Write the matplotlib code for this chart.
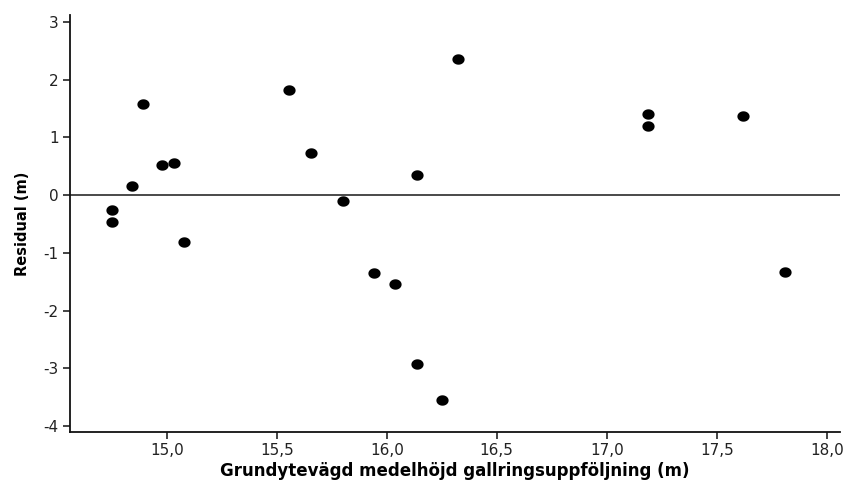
import numpy as np
import matplotlib
matplotlib.use("Agg")
import matplotlib.pyplot as plt
from matplotlib.path import Path
from matplotlib.ticker import FuncFormatter

# Basal-area weighted mean height from thinning follow-up (m) and model residuals (m)
height_m = [14.75, 14.75, 14.84, 14.89, 14.98, 15.035, 15.077, 15.556, 15.657, 15.80,
            15.944, 16.036, 16.136, 16.136, 16.323, 16.251, 17.189, 17.189, 17.618, 17.812]
residual_m = [-0.255, -0.463, 0.156, 1.583, 0.513, 0.555, -0.805, 1.826, 0.728, -0.11,
              -1.353, -1.543, 0.34, -2.93, 2.35, -3.55, 1.405, 1.20, 1.375, -1.33]

x_ticks = [15.0, 15.5, 16.0, 16.5, 17.0, 17.5, 18.0]
y_ticks = [-4, -3, -2, -1, 0, 1, 2, 3]

x_label = "Grundytevägd medelhöjd gallringsuppföljning (m)"
y_label = "Residual (m)"

plt.rcParams["font.family"] = ["DejaVu Sans"]

fig = plt.figure(figsize=(8.45, 4.84), dpi=100)
ax = fig.add_axes([0.0828, 0.108, 0.9112, 0.861])

# Slightly flattened dot marker
t = np.linspace(0, 2 * np.pi, 60)
ellipse = Path(np.column_stack([np.cos(t), 0.85 * np.sin(t)]), closed=True)

ax.axhline(0, color="#4a4a4a", lw=1.4, zorder=1)
ax.plot(height_m, residual_m, linestyle="none", marker=ellipse, markersize=8.8,
        color="black", markeredgewidth=0, zorder=3)

ax.set_xlim(14.56, 18.06)
ax.set_ylim(-4.10, 3.12)
ax.set_xticks(x_ticks)
ax.set_yticks(y_ticks)
ax.xaxis.set_major_formatter(FuncFormatter(lambda v, p: f"{v:.1f}".replace(".", ",")))
ax.yaxis.set_major_formatter(FuncFormatter(lambda v, p: f"{int(round(v))}"))

for side in ("top", "right"):
    ax.spines[side].set_visible(False)
for side in ("left", "bottom"):
    ax.spines[side].set_color("#111111")
    ax.spines[side].set_linewidth(1.3)

ax.tick_params(axis="both", direction="out", length=5, width=1.1, color="#111111",
               labelsize=11, labelcolor="#222222", pad=3)

ax.set_xlabel(x_label, fontsize=12, fontweight="bold", labelpad=3)
ax.set_ylabel(y_label, fontsize=10.5, fontweight="bold", labelpad=10)

fig.savefig("out.png", dpi=100, facecolor="white")
